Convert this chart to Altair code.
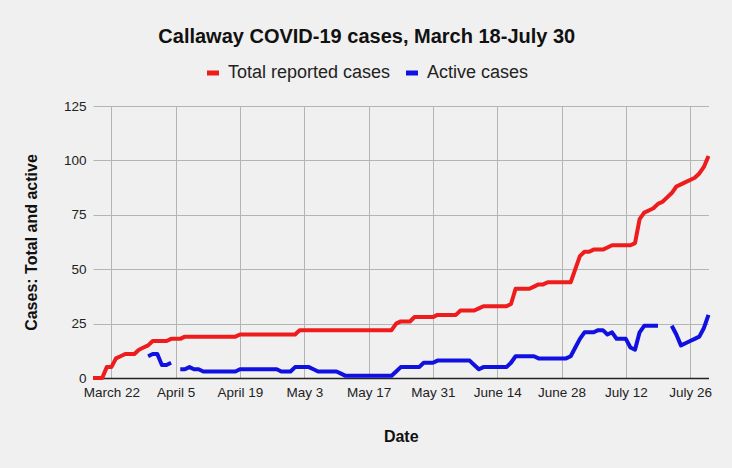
import altair as alt
import pandas as pd

# day index 0 = March 18, 134 = July 30
total = [
    0, 0, 0, 5, 5, 9, 10, 11, 11, 11,
    13, 14, 15, 17, 17, 17, 17, 18, 18, 18,
    19, 19, 19, 19, 19, 19, 19, 19, 19, 19,
    19, 19, 20, 20, 20, 20, 20, 20, 20, 20,
    20, 20, 20, 20, 20, 22, 22, 22, 22, 22,
    22, 22, 22, 22, 22, 22, 22, 22, 22, 22,
    22, 22, 22, 22, 22, 22, 25, 26, 26, 26,
    28, 28, 28, 28, 28, 29, 29, 29, 29, 29,
    31, 31, 31, 31, 32, 33, 33, 33, 33, 33,
    33, 34, 41, 41, 41, 41, 42, 43, 43, 44,
    44, 44, 44, 44, 44, 50, 56, 58, 58, 59,
    59, 59, 60, 61, 61, 61, 61, 61, 62, 73,
    76, 77, 78, 80, 81, 83, 85, 88, 89, 90,
    91, 92, 94, 97, 102,
]
active = [
    None, None, None, None, None, None, None, None, None, None,
    None, None, 10, 11, 11, 6, 6, 7, None, 4,
    4, 5, 4, 4, 3, 3, 3, 3, 3, 3,
    3, 3, 4, 4, 4, 4, 4, 4, 4, 4,
    4, 3, 3, 3, 5, 5, 5, 5, 4, 3,
    3, 3, 3, 3, 2, 1, 1, 1, 1, 1,
    1, 1, 1, 1, 1, 1, 3, 5, 5, 5,
    5, 5, 7, 7, 7, 8, 8, 8, 8, 8,
    8, 8, 8, 6, 4, 5, 5, 5, 5, 5,
    5, 7, 10, 10, 10, 10, 10, 9, 9, 9,
    9, 9, 9, 9, 10, 14, 18, 21, 21, 21,
    22, 22, 20, 21, 18, 18, 18, 14, 13, 21,
    24, 24, 24, 24, None, None, 24, 20, 15, 16,
    17, 18, 19, 23, 29,
]
days = list(range(len(total)))
series_names = ["Total reported cases", "Active cases"]
series_colors = ["#ee1c1c", "#1010e0"]
tick_days = [4, 18, 32, 46, 60, 74, 88, 102, 116, 130]
tick_labels = ["March 22", "April 5", "April 19", "May 3", "May 17",
               "May 31", "June 14", "June 28", "July 12", "July 26"]
y_ticks = [0, 25, 50, 75, 100, 125]

df = pd.DataFrame({
    "day": days + days,
    "cases": total + active,
    "series": [series_names[0]] * len(days) + [series_names[1]] * len(days),
})

label_expr = "".join(
    f"datum.value == {d} ? '{lab}' : " for d, lab in zip(tick_days, tick_labels)
) + "''"

FONT = "Liberation Sans"

chart = alt.Chart(df).mark_line(
    strokeWidth=4, invalid="break-paths-show-domains", strokeJoin="round"
).encode(
    x=alt.X(
        "day:Q",
        scale=alt.Scale(domain=[0, 134], nice=False, zero=False),
        axis=alt.Axis(
            values=tick_days, labelExpr=label_expr, title="Date",
            grid=True, ticks=False, domain=True, domainColor="#222",
            domainWidth=1.5, labelPadding=7, titlePadding=30,
        ),
    ),
    y=alt.Y(
        "cases:Q",
        scale=alt.Scale(domain=[0, 125], nice=False),
        axis=alt.Axis(
            values=y_ticks, title="Cases: Total and active", grid=True,
            ticks=False, domain=False, labelPadding=7, titlePadding=24,
        ),
    ),
    color=alt.Color(
        "series:N",
        scale=alt.Scale(domain=series_names, range=series_colors),
        legend=alt.Legend(
            orient="none", legendX=111, legendY=-42, direction="horizontal",
            title=None, symbolType="stroke", symbolStrokeWidth=5,
            symbolSize=144, labelFontSize=18, labelFont=FONT,
            labelColor="#222", columnPadding=5, labelOffset=6, padding=0,
            labelLimit=400,
        ),
    ),
    order=alt.Order("day:Q"),
).properties(
    width=615.5,
    height=272,
    autosize=alt.AutoSizeParams(type="none"),
    padding={"left": 93, "top": 106, "right": 23.5, "bottom": 90},
    title=alt.TitleParams(
        text="Callaway COVID-19 cases, March 18-July 30",
        font=FONT, fontSize=20, fontWeight="bold", color="#111",
        anchor="middle", dx=-34, dy=-13,
    ),
).configure(
    background="#f0f0f0", font=FONT,
).configure_view(
    strokeOpacity=0,
).configure_axis(
    gridColor="#b4b4b4", gridWidth=1, labelFont=FONT, labelFontSize=13.5,
    labelColor="#222", titleFont=FONT, titleFontSize=16,
    titleFontWeight="bold", titleColor="#111",
)

chart.save("out.html", embed_options={"renderer": "svg", "actions": False})
